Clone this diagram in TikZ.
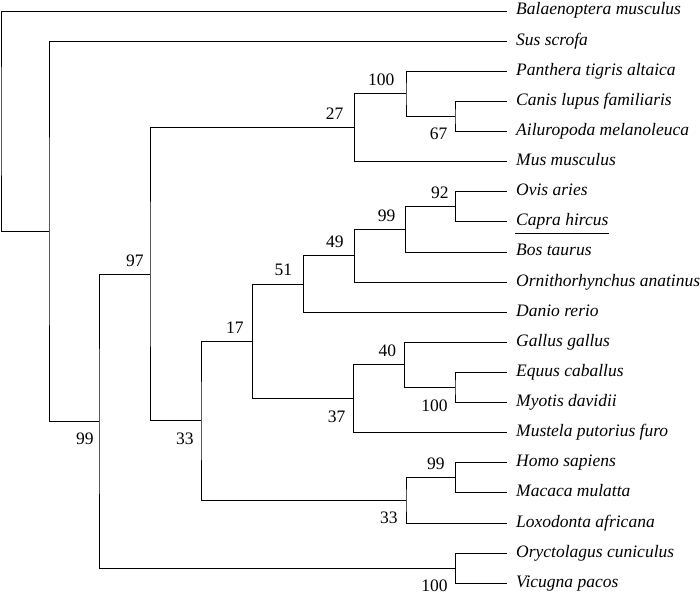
\documentclass[tikz,border=0pt]{standalone}
\usepackage{fontspec}
\setmainfont{Liberation Serif}
\begin{document}
\begin{tikzpicture}[x=1pt,y=-1pt,
  br/.style={draw=black, line width=0.9pt},
  leaf/.style={anchor=base west, inner sep=0pt, font=\fontsize{17.5}{20}\selectfont\itshape},
  bs/.style={anchor=base east, inner sep=0pt, font=\fontsize{17.5}{20}\selectfont}]
\useasboundingbox (0,0) rectangle (700,596);
% leaf ends
\coordinate (l0) at (507,11);
\coordinate (l1) at (507,41.12);
\coordinate (l2) at (507,71.24);
\coordinate (l3) at (507,101.36);
\coordinate (l4) at (507,131.48);
\coordinate (l5) at (507,161.6);
\coordinate (l6) at (507,191.72);
\coordinate (l7) at (507,221.84);
\coordinate (l8) at (507,251.96);
\coordinate (l9) at (507,282.08);
\coordinate (l10) at (507,312.2);
\coordinate (l11) at (507,342.32);
\coordinate (l12) at (507,372.44);
\coordinate (l13) at (507,402.56);
\coordinate (l14) at (507,432.68);
\coordinate (l15) at (507,462.8);
\coordinate (l16) at (507,492.92);
\coordinate (l17) at (507,523.04);
\coordinate (l18) at (507,553.16);
\coordinate (l19) at (507,583.28);
% leaf labels
\node[leaf] (t0) at ([shift={(9,4)}]l0) {Balaenoptera musculus};
\node[leaf] (t1) at ([shift={(9,4)}]l1) {Sus scrofa};
\node[leaf] (t2) at ([shift={(9,4)}]l2) {Panthera tigris altaica};
\node[leaf] (t3) at ([shift={(9,4)}]l3) {Canis lupus familiaris};
\node[leaf] (t4) at ([shift={(9,4)}]l4) {Ailuropoda melanoleuca};
\node[leaf] (t5) at ([shift={(9,4)}]l5) {Mus musculus};
\node[leaf] (t6) at ([shift={(9,4)}]l6) {Ovis aries};
\node[leaf] (t7) at ([shift={(9,4)}]l7) {Capra hircus};
\node[leaf] (t8) at ([shift={(9,4)}]l8) {Bos taurus};
\node[leaf] (t9) at ([shift={(9,4)}]l9) {Ornithorhynchus anatinus};
\node[leaf] (t10) at ([shift={(9,4)}]l10) {Danio rerio};
\node[leaf] (t11) at ([shift={(9,4)}]l11) {Gallus gallus};
\node[leaf] (t12) at ([shift={(9,4)}]l12) {Equus caballus};
\node[leaf] (t13) at ([shift={(9,4)}]l13) {Myotis davidii};
\node[leaf] (t14) at ([shift={(9,4)}]l14) {Mustela putorius furo};
\node[leaf] (t15) at ([shift={(9,4)}]l15) {Homo sapiens};
\node[leaf] (t16) at ([shift={(9,4)}]l16) {Macaca mulatta};
\node[leaf] (t17) at ([shift={(9,4)}]l17) {Loxodonta africana};
\node[leaf] (t18) at ([shift={(9,4)}]l18) {Oryctolagus cuniculus};
\node[leaf] (t19) at ([shift={(9,4)}]l19) {Vicugna pacos};
\draw[br] ([shift={(-1,7.5)}]t7.base west) -- ([shift={(0,7.5)}]t7.base east);
% internal nodes
\coordinate (P67) at (455,116.42);
\coordinate (P100) at (406,93.83);
\coordinate (P27) at (354.5,127.72);
\coordinate (I) at (455.5,206.78);
\coordinate (H) at (405.5,229.37);
\coordinate (G) at (354.5,255.73);
\coordinate (F) at (303.3,283.96);
\coordinate (L) at (455,387.5);
\coordinate (K) at (404.5,364.91);
\coordinate (J) at (353.5,398.8);
\coordinate (E) at (252.7,341.38);
\coordinate (N) at (455.5,477.86);
\coordinate (M) at (406,500.45);
\coordinate (D) at (201,420.9);
\coordinate (C) at (150,274.3);
\coordinate (O) at (455.5,568.22);
\coordinate (B) at (99,421.26);
\coordinate (A) at (49,231.19);
\coordinate (R) at (1,121.1);
% branches
\draw[br] (l3) -| (P67) |- (l4);
\draw[br] (l2) -| (P100) |- (P67);
\draw[br] (P100) -| (P27) |- (l5);
\draw[br] (l6) -| (I) |- (l7);
\draw[br] (I) -| (H) |- (l8);
\draw[br] (H) -| (G) |- (l9);
\draw[br] (G) -| (F) |- (l10);
\draw[br] (l12) -| (L) |- (l13);
\draw[br] (l11) -| (K) |- (L);
\draw[br] (K) -| (J) |- (l14);
\draw[br] (F) -| (E) |- (J);
\draw[br] (l15) -| (N) |- (l16);
\draw[br] (N) -| (M) |- (l17);
\draw[br] (E) -| (D) |- (M);
\draw[br] (P27) -| (C) |- (D);
\draw[br] (l18) -| (O) |- (l19);
\draw[br] (C) -| (B) |- (O);
\draw[br] (l1) -| (A) |- (B);
\draw[br] (l0) -| (R) |- (A);
% support values
\node[bs] (s100a) at ([shift={(-11.5,-8)}]P100) {100};
\node[bs] (s27) at ([shift={(-11,-8)}]P27) {27};
\node[bs] (s67) at ([shift={(-7.5,23.5)}]P67) {67};
\node[bs] (s92) at ([shift={(-6.7,-8)}]I) {92};
\node[bs] (s99a) at ([shift={(-10,-8)}]H) {99};
\node[bs] (s49) at ([shift={(-10.7,-8)}]G) {49};
\node[bs] (s51) at ([shift={(-11.1,-8)}]F) {51};
\node[bs] (s17) at ([shift={(-8.9,-8)}]E) {17};
\node[bs] (s97) at ([shift={(-6.2,-8)}]C) {97};
\node[bs] (s99b) at ([shift={(-5.2,23.5)}]B) {99};
\node[bs] (s33a) at ([shift={(-7.2,23.5)}]D) {33};
\node[bs] (s40) at ([shift={(-8.3,-8)}]K) {40};
\node[bs] (s100b) at ([shift={(-7.2,23.5)}]L) {100};
\node[bs] (s37) at ([shift={(-8,23.5)}]J) {37};
\node[bs] (s99c) at ([shift={(-10.7,-8)}]N) {99};
\node[bs] (s33b) at ([shift={(-8.2,23.5)}]M) {33};
\node[bs] (s100c) at ([shift={(-7.7,23.5)}]O) {100};
\end{tikzpicture}
\end{document}
